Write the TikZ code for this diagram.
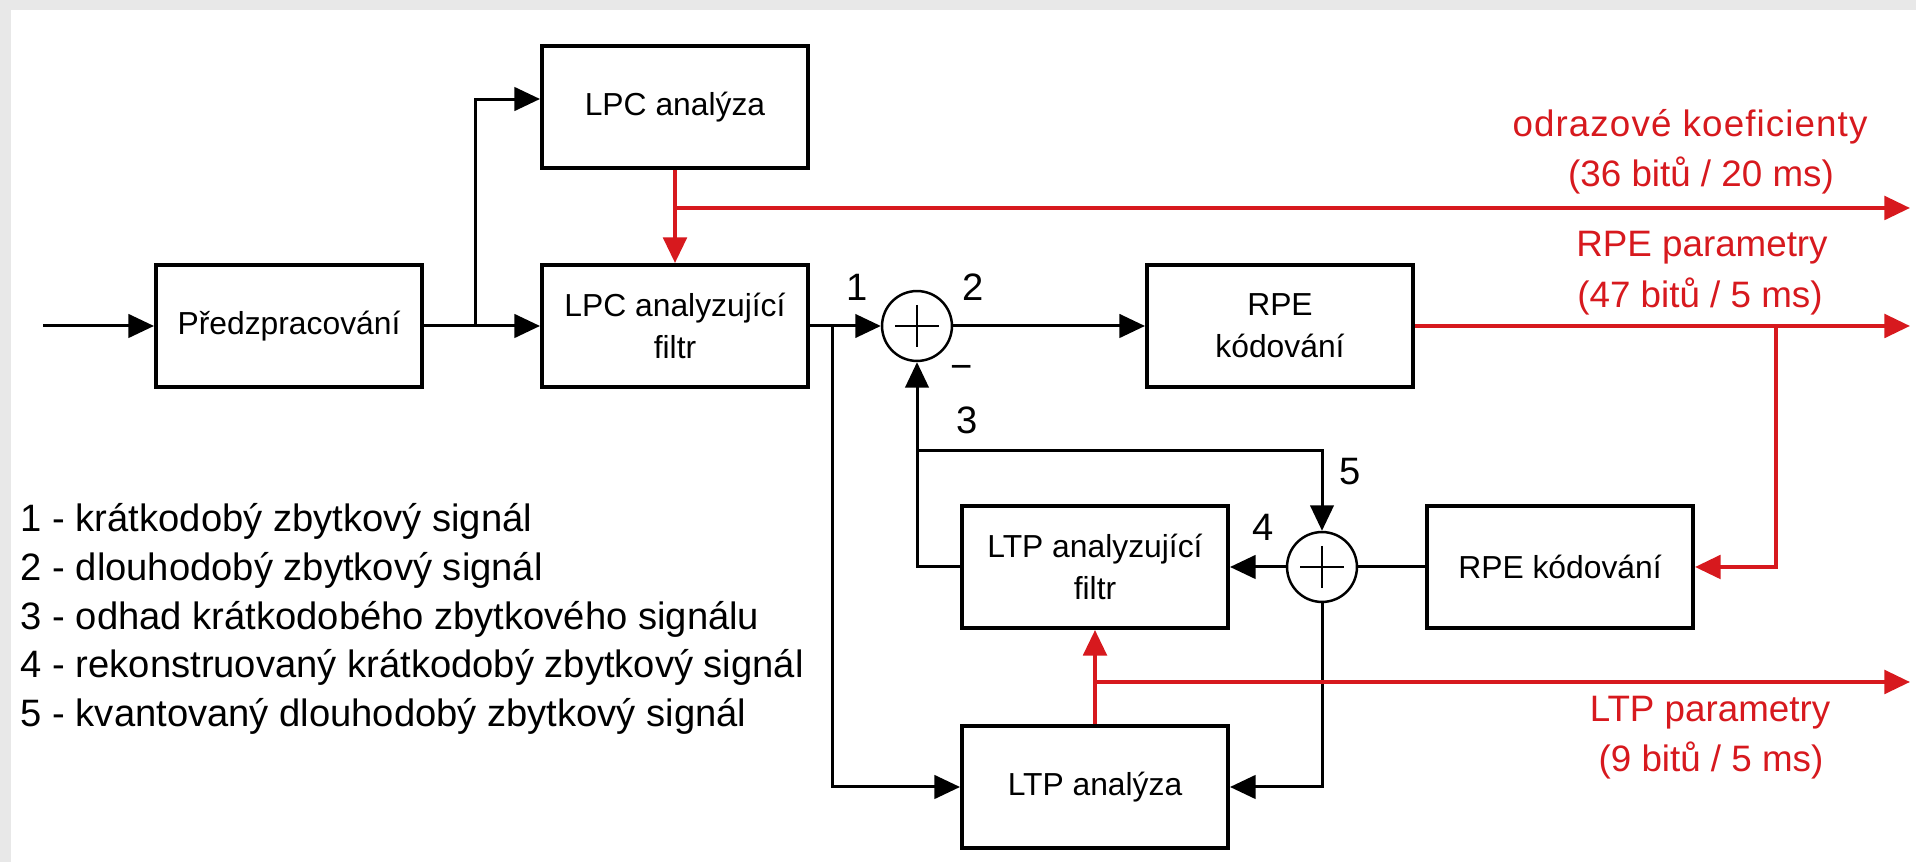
\documentclass[tikz,border=0pt]{standalone}
\usepackage{fontspec}
\setmainfont{Liberation Sans}
\usetikzlibrary{arrows.meta}
\definecolor{sigred}{RGB}{215,25,30}
\definecolor{framegray}{RGB}{232,232,232}

\begin{document}
\begin{tikzpicture}[x=0.281837bp,y=-0.281837bp,
        blok/.style={draw, line width=1.1pt, minimum width=75bp, minimum height=34.4bp, inner sep=0pt, align=center, font=\fontsize{9}{12}\selectfont},
        suma/.style={circle, draw, line width=0.7pt, minimum size=19.7bp, inner sep=0pt},
        sig/.style={line width=0.85pt},
        par/.style={sigred, line width=1.1pt},
        tip/.style={-{Triangle[length=7.2bp,width=6.6bp]}},
        cislo/.style={inner sep=0pt, font=\fontsize{10.8}{13}\selectfont},
        popis/.style={sigred, inner sep=0pt, font=\fontsize{10.4}{13}\selectfont}]
                        % Frame
                        \fill[framegray] (0,0) rectangle (1916,862);
                        \fill[white] (11,10) rectangle (1916,862);
                        \useasboundingbox (0,0) rectangle (1916,862);

                        % Nodes
                        \node[blok] (pre) at (289,326) {Předzpracování};
                        \node[blok] (lpca) at (675,107) {LPC analýza};
                        \node[blok] (lpcf) at (675,326) {LPC analyzující\\filtr};
                        \node[suma] (sumA) at (917,326) {};
                        \node[blok] (rpeA) at (1280,326) {RPE\\kódování};
                        \node[suma] (sumB) at (1322,567) {};
                        \node[blok] (rpeB) at (1560,567) {RPE kódování};
                        \node[blok] (ltpf) at (1095,567) {LTP analyzující\\filtr};
                        \node[blok] (ltpa) at (1095,787) {LTP analýza};

                        \coordinate (vstup) at (43,326);
                        \coordinate (rozv) at (475,326);
                        \coordinate (odb1) at (832,326);
                        \coordinate (zpet) at (917,451);
                        \coordinate (odbR) at (1776,326);
                        \coordinate (vyst1) at (1910,208);
                        \coordinate (vyst2) at (1910,326);
                        \coordinate (vyst3) at (1910,682);

                        % Labels
                        \node[cislo] (c1) at (857,287) {1};
                        \node[cislo] (c2) at (973,287) {2};
                        \node[cislo] (minus) at (962,372) {−};
                        \node[cislo] (c3) at (967,420) {3};
                        \node[cislo] (c4) at (1263,527) {4};
                        \node[cislo] (c5) at (1350,472) {5};

                        \node[popis] (odraz) at (1690,127) {\addfontfeature{LetterSpace=3}odrazové koeficienty};
                        \node[popis] (odrazb) at (1701,175) {(36 bitů / 20 ms)};
                        \node[popis] (rpep) at (1702,248) {RPE parametry};
                        \node[popis] (rpepb) at (1700,296) {(47 bitů / 5 ms)};
                        \node[popis] (ltpp) at (1710,713) {LTP parametry};
                        \node[popis] (ltppb) at (1711,760) {(9 bitů / 5 ms)};

                        \node[anchor=west, inner sep=0pt, align=left, font=\fontsize{10.8}{13.75}\selectfont] (legenda) at (20,619)
                            {1 - krátkodobý zbytkový signál\\
                             2 - dlouhodobý zbytkový signál\\
                             3 - odhad krátkodobého zbytkového signálu\\
                             4 - rekonstruovaný krátkodobý zbytkový signál\\
                             5 - kvantovaný dlouhodobý zbytkový signál};

                        % Plus signs
                        \draw[line width=0.7pt] (sumA.center) ++(-22,0) -- ++(44,0);
                        \draw[line width=0.7pt] (sumA.center) ++(0,-21) -- ++(0,42);
                        \draw[line width=0.7pt] (sumB.center) ++(-22,0) -- ++(44,0);
                        \draw[line width=0.7pt] (sumB.center) ++(0,-21) -- ++(0,42);

                        % Edges
                        \draw[sig,tip] (vstup) -- (pre.west);
                        \draw[sig] (pre.east) -- (rozv);
                        \draw[sig,tip] (rozv) -- (lpcf.west);
                        \draw[sig,tip] (rozv) |- ([yshift=2.25bp]lpca.west);

                        \draw[sig,tip] (lpcf.east) -- (sumA.west);
                        \draw[sig,tip] (odb1) |- (ltpa.west);
                        \draw[sig,tip] (sumA.east) -- (rpeA.west);

                        \draw[sig,tip] (ltpf.west) -| (sumA.south);
                        \draw[sig,tip] (zpet) -| (sumB.north);
                        \draw[sig] (rpeB.west) -- (sumB.east);
                        \draw[sig,tip] (sumB.west) -- (ltpf.east);
                        \draw[sig,tip] (sumB.south) |- (ltpa.east);

                        \draw[par,tip] (lpca.south) -- (lpcf.north);
                        \draw[par,tip] (lpca.south |- vyst1) -- (vyst1);
                        \draw[par,tip] (rpeA.east) -- (vyst2);
                        \draw[par,tip] (odbR) |- (rpeB.east);
                        \draw[par,tip] (ltpa.north) -- (ltpf.south);
                        \draw[par,tip] (ltpa.north |- vyst3) -- (vyst3);
                    \end{tikzpicture}
\end{document}
